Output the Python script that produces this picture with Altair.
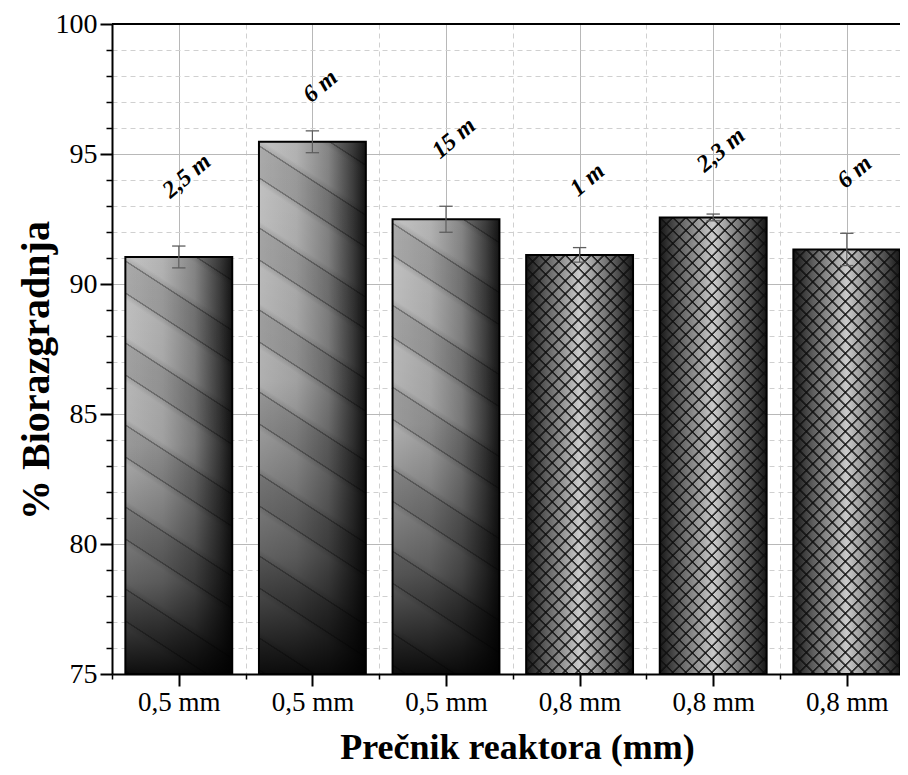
import math
import json
import altair as alt
import pandas as pd

# ---------------- data ----------------
categories = ["0,5 mm", "0,5 mm", "0,5 mm", "0,8 mm", "0,8 mm", "0,8 mm"]
values = [91.04, 95.47, 92.49, 91.12, 92.56, 91.33]
errors = [0.42, 0.42, 0.50, 0.28, 0.13, 0.62]
notes = ["2,5 m", "6 m", "15 m", "1 m", "2,3 m", "6 m"]
note_y = [94.15, 97.6, 95.6, 94.0, 95.15, 94.3]
textures = ["wave", "wave", "wave", "cross", "cross", "cross"]
y_major = [75, 80, 85, 90, 95, 100]
y_minor = [v for v in range(75, 101) if v % 5 != 0]
x_major = [1, 2, 3, 4, 5, 6]
x_minor = [0.5, 1.5, 2.5, 3.5, 4.5, 5.5]

# ---------------- geometry / style ----------------
W, H = 788, 650
BAND = 133.6
X0 = 0.5
X1 = X0 + W / BAND
Y0, Y1 = 75, 100
HALF = 0.4
SERIF = "Liberation Serif"

df = pd.DataFrame({
    "pos": list(range(1, len(values) + 1)),
    "cat": categories,
    "value": values,
    "err": errors,
    "note": notes,
    "note_y": note_y,
})

xscale = alt.Scale(domain=[X0, X1], nice=False, zero=False)
yscale = alt.Scale(domain=[Y0, Y1], nice=False, zero=False)

base = alt.Chart(df).transform_calculate(
    x0=f"datum.pos - {HALF}",
    x1=f"datum.pos + {HALF}",
    lo="datum.value - datum.err",
    hi="datum.value + datum.err",
    c0="datum.pos - 0.05",
    c1="datum.pos + 0.05",
    base=str(Y0),
    nx="datum.pos + 0.06",
)


def linear(x1, y1, x2, y2, stops):
    return {"gradient": "linear", "x1": x1, "y1": y1, "x2": x2, "y2": y2,
            "stops": [{"offset": o, "color": c} for o, c in stops]}


def stripes(w, h, s, period, width, color, soft=0.6, phase=0.0):
    # stripes along lines  y - s*x = const  (pixel space inside the bar)
    if s >= 0:
        p1 = (1.0, 0.0); qmin = -s * w; qmax = h
    else:
        p1 = (0.0, 0.0); qmin = 0.0; qmax = h - s * w
    g = (-s * w, h)
    gg = g[0] ** 2 + g[1] ** 2
    span = qmax - qmin
    k = span / gg
    p2 = (p1[0] + k * g[0], p1[1] + k * g[1])
    clear = "rgba(0,0,0,0)"
    st = [(0.0, clear)]
    n0 = math.floor((qmin - phase) / period) - 1
    n1 = math.ceil((qmax - phase) / period) + 1
    for n in range(n0, n1 + 1):
        c = phase + n * period
        for q, col in [(c - width / 2 - soft, clear), (c - width / 2, color),
                       (c + width / 2, color), (c + width / 2 + soft, clear)]:
            t = (q - qmin) / span
            if 0.0 <= t <= 1.0:
                st.append((round(t, 6), col))
    st.append((1.0, clear))
    st.sort(key=lambda a: a[0])
    return linear(p1[0], p1[1], p2[0], p2[1], st)


def bar_enc(ch):
    return ch.encode(
        x=alt.X("x0:Q", scale=xscale, axis=None),
        x2="x1:Q",
        y=alt.Y("value:Q", scale=yscale, axis=None),
        y2="base:Q",
    )


layers = []
for i, (v, tex) in enumerate(zip(values, textures)):
    h = (v - Y0) * H / (Y1 - Y0)
    w = 2 * HALF * BAND
    if tex == "wave":
        fills = [
            linear(0, 0, 1, 0, [(0, "#c4c4c4"), (0.35, "#b2b2b2"), (0.65, "#848484"),
                                (0.88, "#3e3e3e"), (1, "#141414")]),
            stripes(w, h, 0.65, 82, 30, "rgba(0,0,0,0.13)", soft=8, phase=20),
            stripes(w, h, 0.65, 82, 1.2, "rgba(0,0,0,0.3)", soft=0.5, phase=4),
            stripes(w, h, 0.65, 82, 1.2, "rgba(0,0,0,0.3)", soft=0.5, phase=36),
            linear(0, 0, 0, 1, [(0, "rgba(0,0,0,0)"), (0.45, "rgba(0,0,0,0.1)"),
                                (0.78, "rgba(0,0,0,0.5)"), (1, "rgba(0,0,0,0.93)")]),
        ]
    else:
        fills = [
            linear(0, 0, 1, 0, [(0, "#161616"), (0.18, "#5c5c5c"), (0.5, "#cacaca"),
                                (0.82, "#5c5c5c"), (1, "#161616")]),
            stripes(w, h, 1, 13, 1.7, "rgba(15,15,15,0.8)", soft=0.6),
            stripes(w, h, -1, 13, 1.7, "rgba(15,15,15,0.8)", soft=0.6),
        ]
    for f in fills:
        layers.append(bar_enc(
            base.transform_filter(f"datum.pos == {i + 1}").mark_bar(fill=f, strokeWidth=0)
        ))

common = dict(tickColor="black", grid=True, gridWidth=1)
label_common = dict(labelFont=SERIF, labelColor="black", labelFlush=False, labelOverlap=False)

x_axis_major = alt.Axis(
    orient="bottom", values=x_major,
    labelExpr=f"{json.dumps(categories)}[datum.value - 1]",
    labelFontSize=27, labelPadding=3,
    domainColor="black", domainWidth=2,
    tickSize=12, tickWidth=2, gridColor="#b8b8b8",
    title="Prečnik reaktora (mm)",
    titleFont=SERIF, titleFontSize=36, titleFontWeight="bold", titleColor="black",
    titleX=405, titleY=84, titleBaseline="alphabetic", titleAlign="center",
    **common, **label_common,
)
x_axis_minor = alt.Axis(
    orient="bottom", values=x_minor, labels=False, domain=False,
    tickSize=5, tickWidth=1.5, gridColor="#d0d0d0", gridDash=[5, 4], title=None,
    **common,
)
y_axis_major = alt.Axis(
    orient="left", values=y_major,
    labelFontSize=28, labelPadding=3,
    domainColor="black", domainWidth=2,
    tickSize=12, tickWidth=2, gridColor="#b8b8b8",
    title="% Biorazgradnja",
    titleFont=SERIF, titleFontSize=40, titleFontWeight="bold", titleColor="black",
    titleX=-76, titleY=346, titleBaseline="middle", titleAlign="center", titleAngle=270,
    **common, **label_common,
)
y_axis_minor = alt.Axis(
    orient="left", values=y_minor, labels=False, domain=False,
    tickSize=6, tickWidth=1.5, gridColor="#d0d0d0", gridDash=[5, 4], title=None,
    **common,
)

minor_axes = base.mark_point(opacity=0).encode(
    x=alt.X("pos:Q", scale=xscale, axis=x_axis_minor),
    y=alt.Y("value:Q", scale=yscale, axis=y_axis_minor),
)

outline = base.mark_bar(fill="white", fillOpacity=0, stroke="black", strokeWidth=2).encode(
    x=alt.X("x0:Q", scale=xscale, axis=x_axis_major),
    x2="x1:Q",
    y=alt.Y("value:Q", scale=yscale, axis=y_axis_major),
    y2="base:Q",
)

err_color = "#5e5e5e"
err_v = base.mark_rule(color=err_color, strokeWidth=1.2).encode(
    x=alt.X("pos:Q", scale=xscale, axis=None),
    y=alt.Y("lo:Q", scale=yscale, axis=None),
    y2="hi:Q",
)
cap_hi = base.mark_rule(color=err_color, strokeWidth=1.3).encode(
    x=alt.X("c0:Q", scale=xscale, axis=None), x2="c1:Q",
    y=alt.Y("hi:Q", scale=yscale, axis=None),
)
cap_lo = base.mark_rule(color=err_color, strokeWidth=1.3).encode(
    x=alt.X("c0:Q", scale=xscale, axis=None), x2="c1:Q",
    y=alt.Y("lo:Q", scale=yscale, axis=None),
)

labels = base.mark_text(
    font=SERIF, fontSize=24, fontWeight="bold", fontStyle="italic",
    angle=320, align="center", baseline="middle", color="black",
).encode(
    x=alt.X("nx:Q", scale=xscale, axis=None),
    y=alt.Y("note_y:Q", scale=yscale, axis=None),
    text="note:N",
)

top_border = alt.Chart(df).mark_rule(color="black", strokeWidth=2).encode(
    y=alt.datum(Y1, scale=yscale, axis=None),
)

chart = alt.layer(
    minor_axes, *layers, outline, err_v, cap_hi, cap_lo, labels, top_border
).resolve_axis(
    x="independent", y="independent"
).properties(
    width=W, height=H,
    autosize=alt.AutoSizeParams(type="none"),
    padding={"left": 104, "top": 16, "right": 0, "bottom": 93},
    background="white",
).configure_view(stroke=None)

chart.save("out.html", embed_options={"renderer": "svg", "actions": False})
